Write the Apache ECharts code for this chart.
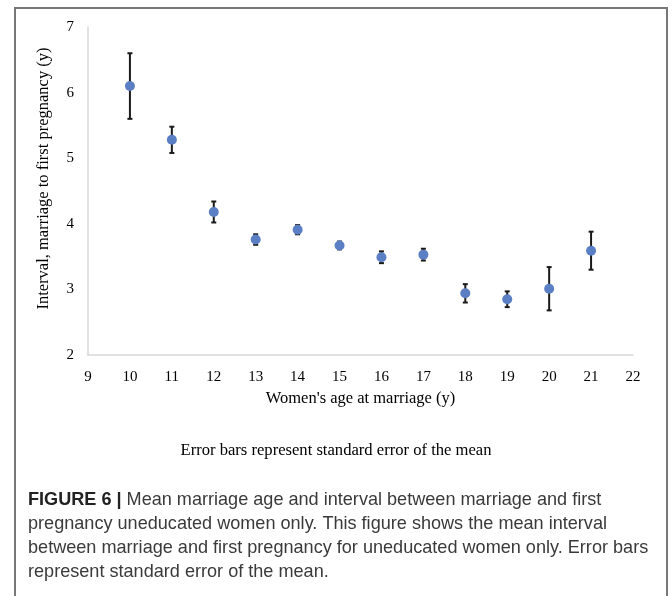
<!DOCTYPE html>
<html>
<head>
<meta charset="utf-8">
<script src="https://cdn.jsdelivr.net/npm/echarts@6/dist/echarts.min.js"></script>
<style>
html,body{margin:0;padding:0;background:#fff;}
#chart{width:672px;height:596px;}
</style>
</head>
<body>
<div id="chart"></div>
<script>
// Data
const ages = [10, 11, 12, 13, 14, 15, 16, 17, 18, 19, 20, 21];
const meanInterval = [6.10, 5.28, 4.18, 3.76, 3.91, 3.67, 3.49, 3.53, 2.94, 2.85, 3.01, 3.59];
const stdError = [0.50, 0.20, 0.16, 0.08, 0.07, 0.06, 0.09, 0.09, 0.14, 0.12, 0.33, 0.29];
const xTicks = [9, 10, 11, 12, 13, 14, 15, 16, 17, 18, 19, 20, 21, 22];
const yTicks = [2, 3, 4, 5, 6, 7];

const xAxisTitle = "Women's age at marriage (y)";
const yAxisTitle = "Interval, marriage to first pregnancy (y)";
const noteText = "Error bars represent standard error of the mean";
const captionBold = "FIGURE 6 | ";
const captionLines = [
  "Mean marriage age and interval between marriage and first",
  "pregnancy uneducated women only. This figure shows the mean interval",
  "between marriage and first pregnancy for uneducated women only. Error bars",
  "represent standard error of the mean."
];

const points = ages.map((a, i) => [a, meanInterval[i]]);
const errData = ages.map((a, i) => [a, meanInterval[i] - stdError[i], meanInterval[i] + stdError[i]]);

const serif = '"Liberation Serif", "Times New Roman", serif';
const sans = '"Liberation Sans", Arial, Helvetica, sans-serif';

const chart = echarts.init(document.getElementById('chart'), null, {renderer: 'canvas'});

const captionGraphics = [];
captionLines.forEach((line, i) => {
  if (i === 0) {
    captionGraphics.push({
      type: 'text', left: 28, top: 491 + i * 24,
      style: {
        text: '{b|' + captionBold + '}{n|' + line + '}',
        rich: {
          b: {font: 'bold 18.1px ' + sans, fill: '#222'},
          n: {font: '18.1px ' + sans, fill: '#3a3a3a'}
        }
      }
    });
  } else {
    captionGraphics.push({
      type: 'text', left: 28, top: 491 + i * 24,
      style: {text: line, font: '18.1px ' + sans, fill: '#3a3a3a'}
    });
  }
});

chart.setOption({
  animation: false,
  backgroundColor: '#fff',
  grid: {left: 88, top: 27, width: 545, height: 328, containLabel: false},
  xAxis: {
    type: 'value', min: xTicks[0], max: xTicks[xTicks.length - 1], interval: 1,
    name: xAxisTitle, nameLocation: 'middle', nameGap: 35,
    nameTextStyle: {fontFamily: serif, fontSize: 16.5, color: '#000'},
    axisLine: {show: true, onZero: false, lineStyle: {color: '#d9d9d9', width: 1.5}},
    axisTick: {show: false},
    splitLine: {show: false},
    axisLabel: {fontFamily: serif, fontSize: 15, color: '#000', margin: 15}
  },
  yAxis: {
    type: 'value', min: yTicks[0], max: yTicks[yTicks.length - 1], interval: 1,
    name: yAxisTitle, nameLocation: 'middle', nameGap: 36,
    nameTextStyle: {fontFamily: serif, fontSize: 16.5, color: '#000', padding: [0, 0, 0, 25]},
    axisLine: {show: true, onZero: false, lineStyle: {color: '#d9d9d9', width: 1.5}},
    axisTick: {show: false},
    splitLine: {show: false},
    axisLabel: {fontFamily: serif, fontSize: 15, color: '#000', margin: 14}
  },
  series: [
    {
      type: 'custom',
      name: 'error',
      data: errData,
      z: 2,
      renderItem: function (params, api) {
        const x = api.value(0);
        const lo = api.coord([x, api.value(1)]);
        const hi = api.coord([x, api.value(2)]);
        const cap = 2.5;
        const st = {stroke: '#1a1a1a', lineWidth: 2};
        return {
          type: 'group',
          children: [
            {type: 'line', shape: {x1: hi[0], y1: hi[1], x2: lo[0], y2: lo[1]}, style: st},
            {type: 'line', shape: {x1: hi[0] - cap, y1: hi[1], x2: hi[0] + cap, y2: hi[1]}, style: st},
            {type: 'line', shape: {x1: lo[0] - cap, y1: lo[1], x2: lo[0] + cap, y2: lo[1]}, style: st}
          ]
        };
      }
    },
    {
      type: 'scatter',
      name: 'mean',
      data: points,
      symbol: 'circle',
      symbolSize: 10,
      z: 3,
      itemStyle: {color: '#5b7fc4', opacity: 1}
    }
  ],
  graphic: [
    {
      type: 'polyline',
      shape: {points: [[15, 596], [15, 8], [667, 8], [667, 596]]},
      style: {stroke: '#777', lineWidth: 2, fill: null}
    },
    {
      type: 'text', left: 'center', top: 442,
      style: {text: noteText, font: '16.6px ' + serif, fill: '#000'}
    }
  ].concat(captionGraphics)
});
</script>
</body>
</html>
